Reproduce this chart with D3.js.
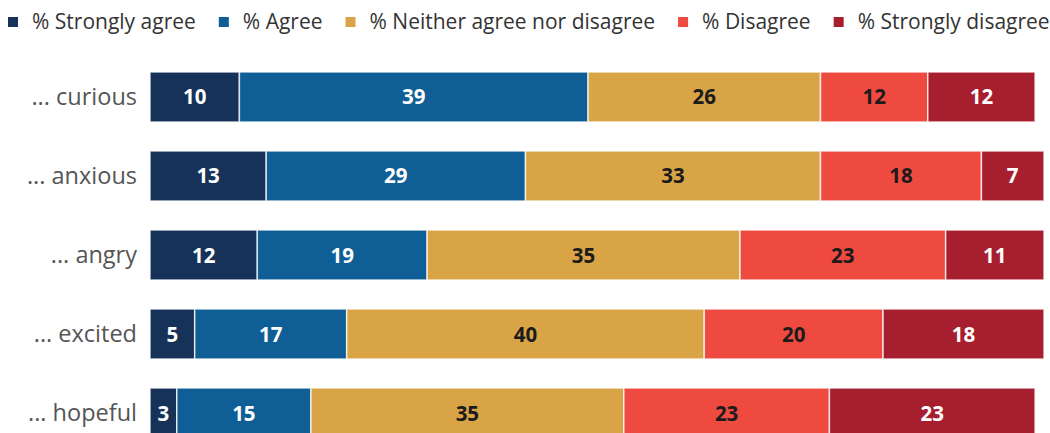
<!DOCTYPE html>
<html><head><meta charset="utf-8">
<script src="https://cdn.jsdelivr.net/npm/d3@7"></script>
<style>body{margin:0;background:#fff;} svg{display:block;font-family:"Open Sans",sans-serif;}</style>
</head><body><svg id="c" width="1050" height="433"></svg>
<script>
const categories = ["... curious", "... anxious", "... angry", "... excited", "... hopeful"];
const seriesNames = ["% Strongly agree", "% Agree", "% Neither agree nor disagree", "% Disagree", "% Strongly disagree"];
const stronglyAgree = [10, 13, 12, 5, 3];
const agree = [39, 29, 19, 17, 15];
const neither = [26, 33, 35, 40, 35];
const disagree = [12, 18, 23, 20, 23];
const stronglyDisagree = [12, 7, 11, 18, 23];
const colors = ["#163259", "#0f5e96", "#d9a446", "#ef4a40", "#a71e2f"];
const textColors = ["#fff", "#fff", "#1b1b1b", "#1b1b1b", "#fff"];

const series = [stronglyAgree, agree, neither, disagree, stronglyDisagree];
const svg = d3.select("#c");
const x = d3.scaleLinear().domain([0, 100]).range([150, 1044]);
const y = d3.scaleBand().domain(categories).range([43, 467]).padding(0.367);

categories.forEach((cat, i) => {
  let acc = 0;
  series.forEach((s, j) => {
    const v = s[i];
    const x0 = x(acc), x1 = x(acc + v);
    const g = svg.append("g");
    g.append("rect").attr("x", x0).attr("y", y(cat)).attr("width", x1 - x0).attr("height", y.bandwidth())
      .attr("fill", colors[j]).attr("stroke", "#fff").attr("stroke-opacity", 0.75).attr("stroke-width", 1.5);
    g.append("text").attr("x", (x0 + x1) / 2).attr("y", y(cat) + y.bandwidth() / 2 + 7.5)
      .attr("text-anchor", "middle").attr("font-size", 20.5).attr("font-weight", 700)
      .attr("fill", textColors[j]).text(v);
    acc += v;
  });
});

const yAxis = d3.axisLeft(y).tickSize(0).tickPadding(13);
const ag = svg.append("g").attr("transform", "translate(150,0)").call(yAxis);
ag.select(".domain").remove();
ag.selectAll("text").attr("font-size", 23.5).attr("fill", "#555").attr("font-family", "Open Sans, sans-serif").attr("dy", "0.35em");

// legend
let lx = 8;
seriesNames.forEach((n, j) => {
  svg.append("rect").attr("x", lx).attr("y", 17).attr("width", 10).attr("height", 10).attr("fill", colors[j]);
  const t = svg.append("text").attr("x", lx + 24).attr("y", 29).attr("font-size", 21).attr("fill", "#333").text(n);
  lx = lx + 24 + t.node().getComputedTextLength() + 23;
});
</script></body></html>
